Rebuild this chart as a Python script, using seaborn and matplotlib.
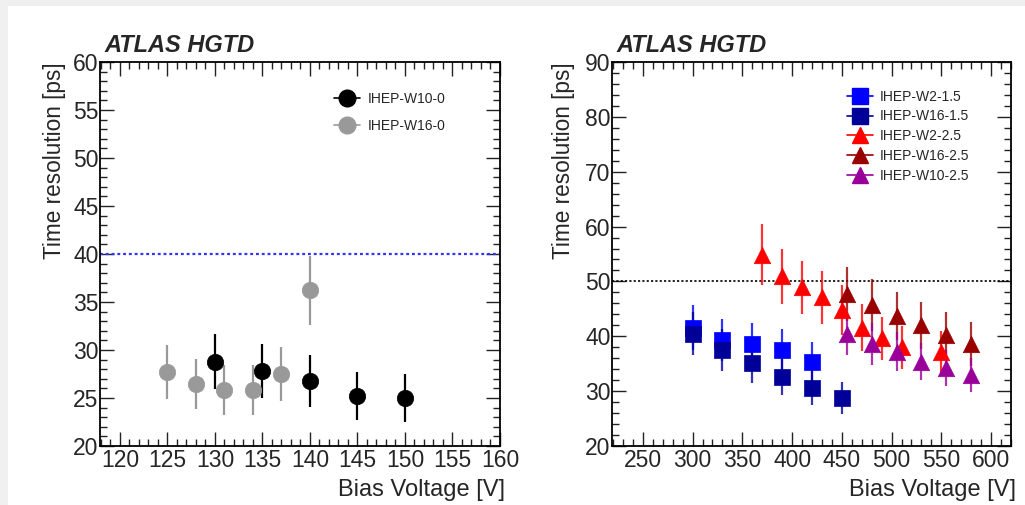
"""
Time resolution vs bias voltage for IHEP LGAD sensors (ATLAS HGTD style).
"""
import numpy as np
import pandas as pd
import seaborn as sns
import matplotlib
matplotlib.use('Agg')
import matplotlib.pyplot as plt
from matplotlib.lines import Line2D
from matplotlib.ticker import MultipleLocator

# ---- data: left panel (fluence 0) ----
w10_0_v = [130, 135, 140, 145, 150]
w10_0_t = [28.8, 27.8, 26.8, 25.2, 25.0]
w10_0_e = [2.9, 2.8, 2.7, 2.5, 2.5]

w16_0_v = [125, 128, 131, 134, 137, 140]
w16_0_t = [27.7, 26.5, 25.8, 25.8, 27.5, 36.2]
w16_0_e = [2.8, 2.6, 2.6, 2.6, 2.8, 3.6]

# ---- data: right panel (irradiated) ----
w2_15_v = [300, 330, 360, 390, 420]
w2_15_t = [41.6, 39.3, 38.6, 37.5, 35.4]
w2_15_e = [4.1, 3.8, 3.9, 3.8, 3.5]

w16_15_v = [300, 330, 360, 390, 420, 450]
w16_15_t = [40.5, 37.5, 35.1, 32.6, 30.5, 28.8]
w16_15_e = [4.0, 3.8, 3.6, 3.3, 3.1, 2.9]

w2_25_v = [370, 390, 410, 430, 450, 470, 490, 510, 550]
w2_25_t = [54.9, 50.9, 48.9, 47.1, 44.8, 41.6, 39.6, 38.0, 37.1]
w2_25_e = [5.6, 5.1, 4.9, 4.8, 4.5, 4.2, 4.0, 3.9, 3.8]

w16_25_v = [455, 480, 505, 530, 555, 580]
w16_25_t = [47.7, 45.7, 43.7, 42.0, 40.3, 38.6]
w16_25_e = [4.9, 4.7, 4.4, 4.3, 4.1, 4.0]

w10_25_v = [455, 480, 505, 530, 555, 580]
w10_25_t = [40.5, 38.6, 37.2, 35.4, 34.2, 33.0]
w10_25_e = [4.0, 3.8, 3.5, 3.4, 3.3, 3.1]

sns.set_style("ticks")
plt.rcParams['font.family'] = ['Liberation Sans', 'DejaVu Sans']
plt.rcParams['xtick.direction'] = 'in'
plt.rcParams['ytick.direction'] = 'in'


def make_df(v, t, e, name):
    return pd.DataFrame({'volt': v, 'res': t, 'err': e, 'sensor': name})


def draw_series(ax, df, color, marker, size, ealpha=1.0):
    ax.errorbar(df['volt'], df['res'], yerr=df['err'], fmt='none', ecolor=color,
                elinewidth=1.6, capsize=0, zorder=2, alpha=ealpha)
    sns.scatterplot(data=df, x='volt', y='res', ax=ax, color=color, marker=marker, s=size,
                    edgecolor=color, linewidth=0.5, zorder=3, legend=False)


def style_axes(ax, xlim, ylim, xmaj, xmin, ymaj, ymin, ylab_x):
    ax.set_xlim(*xlim)
    ax.set_ylim(*ylim)
    ax.xaxis.set_major_locator(MultipleLocator(xmaj))
    ax.xaxis.set_minor_locator(MultipleLocator(xmin))
    ax.yaxis.set_major_locator(MultipleLocator(ymaj))
    ax.yaxis.set_minor_locator(MultipleLocator(ymin))
    ax.tick_params(which='both', top=True, right=True, direction='in', width=1.0, color='#222222')
    ax.tick_params(which='major', length=10, labelsize=16.5, pad=2)
    ax.tick_params(axis='y', which='major', pad=1)
    ax.tick_params(which='minor', length=5)
    for s in ax.spines.values():
        s.set_linewidth(1.3)
        s.set_color('black')
    ax.set_xlabel('Bias Voltage [V]', fontsize=17, ha='right', va='center')
    ax.xaxis.set_label_coords(1.0 + 5 / 400, -44 / 384)
    ax.set_ylabel('Time resolution [ps]', fontsize=16.3, loc='top')
    ax.yaxis.set_label_coords(ylab_x, 1.0)
    ax.text(0.012, 1.012, 'ATLAS HGTD', transform=ax.transAxes, fontsize=17,
            fontweight='bold', style='italic', ha='left', va='bottom')


fig = plt.figure(figsize=(10.25, 5.05), dpi=100, facecolor='#f0f0f0')
fig.patches.append(plt.Rectangle((8 / 1025, 0), 1, 1 - 6 / 505, transform=fig.transFigure,
                                 facecolor='white', edgecolor='none', zorder=-10))

ax0 = fig.add_axes([100 / 1025, 1 - 446 / 505, 400 / 1025, 384 / 505])
ax1 = fig.add_axes([612 / 1025, 1 - 446 / 505, 399 / 1025, 384 / 505])

# left panel
left_series = [
    (make_df(w10_0_v, w10_0_t, w10_0_e, 'IHEP-W10-0'), 'black', 'o'),
    (make_df(w16_0_v, w16_0_t, w16_0_e, 'IHEP-W16-0'), '#999999', 'o'),
]
ax0.axhline(40, color='#3333ff', ls=(0, (1.3, 1.3)), lw=1.6, zorder=1)
handles = []
for df, c, m in left_series:
    draw_series(ax0, df, c, m, 140)
    handles.append(Line2D([], [], color=c, marker=m, markersize=12, lw=1.2,
                          label=df['sensor'].iloc[0]))
style_axes(ax0, (117.9, 160), (20, 60), 5, 1, 5, 1, -0.085)
ax0.legend(handles=handles, loc='upper left', bbox_to_anchor=(0.585, 0.922), frameon=False,
           fontsize=10, borderpad=0, borderaxespad=0, handlelength=1.9, handletextpad=0.5,
           labelspacing=0.95)

# right panel
right_series = [
    (make_df(w2_15_v, w2_15_t, w2_15_e, 'IHEP-W2-1.5'), '#0000ff', 's'),
    (make_df(w16_15_v, w16_15_t, w16_15_e, 'IHEP-W16-1.5'), '#000099', 's'),
    (make_df(w2_25_v, w2_25_t, w2_25_e, 'IHEP-W2-2.5'), '#ff0000', '^'),
    (make_df(w16_25_v, w16_25_t, w16_25_e, 'IHEP-W16-2.5'), '#990000', '^'),
    (make_df(w10_25_v, w10_25_t, w10_25_e, 'IHEP-W10-2.5'), '#990099', '^'),
]
ax1.axhline(50, color='black', ls=(0, (1.3, 1.3)), lw=1.2, zorder=1)
handles = []
for df, c, m in right_series:
    draw_series(ax1, df, c, m, 140, ealpha=0.8)
    handles.append(Line2D([], [], color=c, marker=m, markersize=11, lw=1.2,
                          label=df['sensor'].iloc[0]))
style_axes(ax1, (219, 620), (20, 90), 50, 10, 10, 2, -0.092)
ax1.legend(handles=handles, loc='upper left', bbox_to_anchor=(0.588, 0.928), frameon=False,
           fontsize=10, borderpad=0, borderaxespad=0, handlelength=1.9, handletextpad=0.5,
           labelspacing=0.42)

plt.savefig('out.png', dpi=100, facecolor=fig.get_facecolor())
